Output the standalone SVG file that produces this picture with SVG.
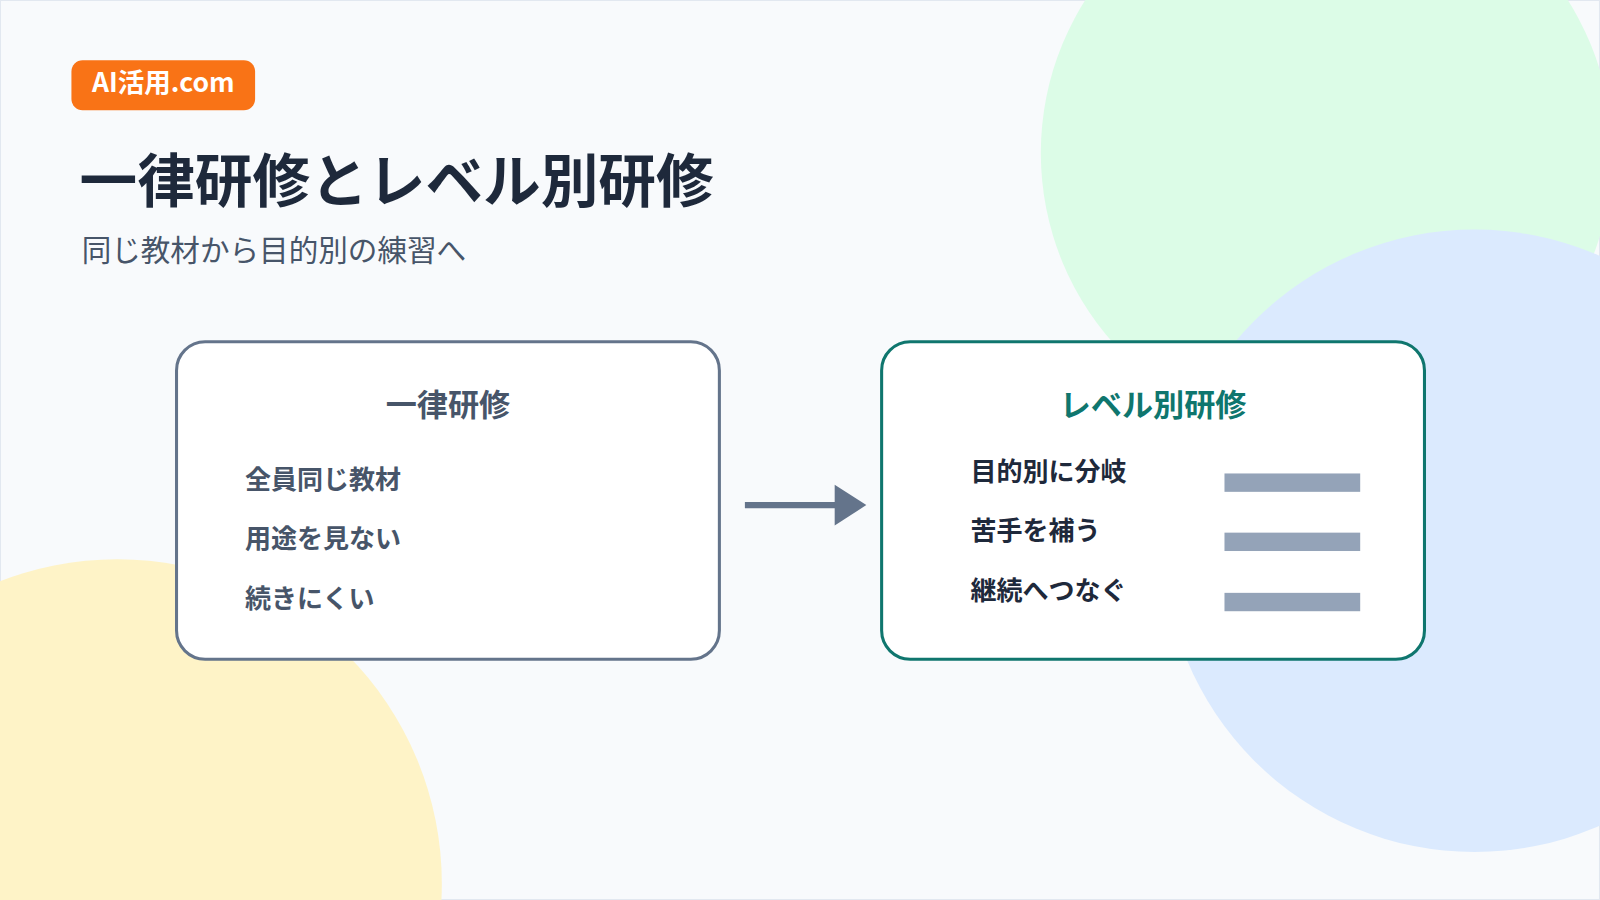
<svg xmlns="http://www.w3.org/2000/svg" width="1600" height="900" viewBox="0 0 1600 900">
<style>
text{font-family:"Noto Sans CJK JP","Noto Sans",sans-serif}
.box{fill:#fff;stroke-width:3}
.item{font-size:25.5px;font-weight:700}
.bar{fill:#94a3b8}
</style>
<g transform="scale(1.0204)">
<rect x="0" y="0" width="1568" height="882" fill="#f8fafc" stroke="#e2e8f0" stroke-width="2"/>
<circle cx="1300" cy="150" r="280" fill="#dcfce7"/>
<circle cx="1445" cy="530" r="305" fill="#dbeafe"/>
<circle cx="115" cy="866" r="318" fill="#fef3c7"/>
<g id="badge"><rect x="70" y="59" width="180" height="49" rx="11" fill="#f97316"/><text x="160" y="90" text-anchor="middle" font-size="26" font-weight="700" fill="#fff">AI活用.com</text></g>
<text x="78" y="198" font-size="56.5" font-weight="700" fill="#1e293b">一律研修とレベル別研修</text>
<text x="80" y="256" font-size="29" fill="#475569">同じ教材から目的別の練習へ</text>
<g id="left"><rect class="box" x="173" y="335" width="532" height="311" rx="28" stroke="#64748b"/>
<text x="439" y="408" text-anchor="middle" font-size="30.5" font-weight="700" fill="#475569">一律研修</text>
<text class="item" x="240" y="479" fill="#475569">全員同じ教材</text>
<text class="item" x="240" y="537" fill="#475569">用途を見ない</text>
<text class="item" x="240" y="596" fill="#475569">続きにくい</text></g>
<g id="connectors"><line x1="730" y1="495" x2="819" y2="495" stroke="#64748b" stroke-width="6"/><path d="M818,475 L849,495 818,515z" fill="#64748b"/></g>
<g id="right"><rect class="box" x="864" y="335" width="532" height="311" rx="28" stroke="#0f766e"/>
<text x="1130" y="408" text-anchor="middle" font-size="30.5" font-weight="700" fill="#0f766e">レベル別研修</text>
<text class="item" x="951" y="471" fill="#1e293b">目的別に分岐</text>
<text class="item" x="951" y="529" fill="#1e293b">苦手を補う</text>
<text class="item" x="951" y="588" fill="#1e293b">継続へつなぐ</text>
<rect class="bar" x="1200" y="464" width="133" height="18"/>
<rect class="bar" x="1200" y="522" width="133" height="18"/>
<rect class="bar" x="1200" y="581" width="133" height="18"/></g>
</g>
</svg>
